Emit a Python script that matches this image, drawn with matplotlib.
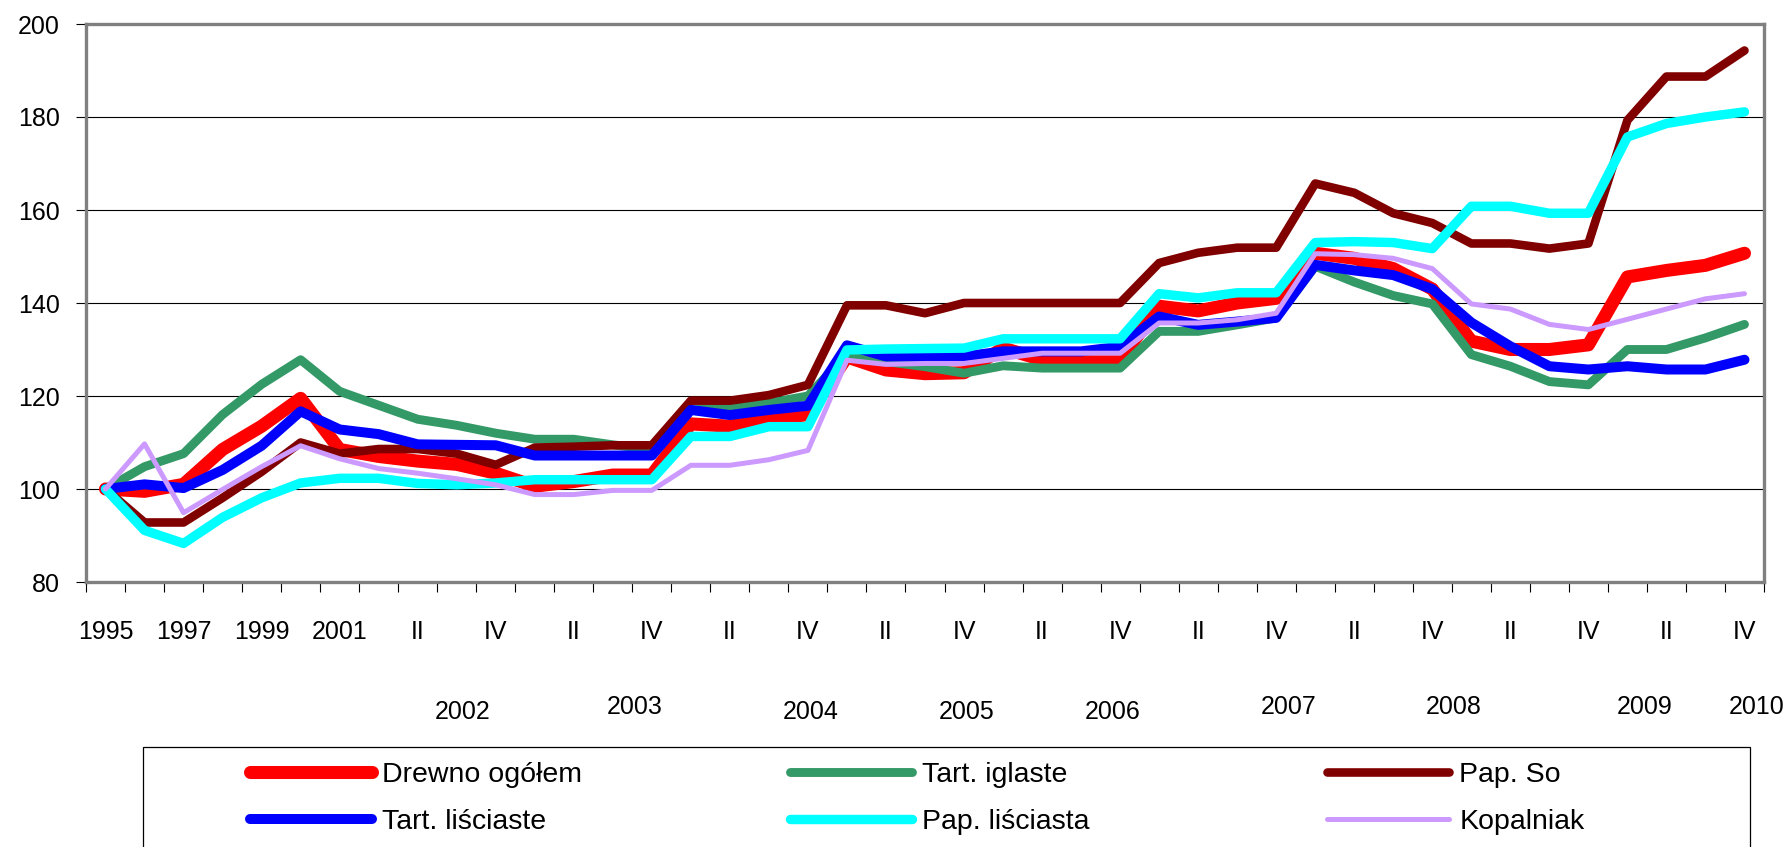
import matplotlib
matplotlib.use('Agg')
from matplotlib import pyplot as plt
import matplotlib.transforms as mtransforms
from matplotlib.patches import Rectangle
import numpy as np

plt.rcParams['font.family'] = ['Liberation Sans', 'DejaVu Sans']

# Categories: yearly 1995-2001, then quarterly 2002-2010
cat_labels = ['1995', '1996', '1997', '1998', '1999', '2000', '2001'] + ['I', 'II', 'III', 'IV'] * 9
group_years = ['2002', '2003', '2004', '2005', '2006', '2007', '2008', '2009', '2010']

drewno = [100, 99.5, 101, 108.5, 113.5, 119.5, 108.5, 107, 106, 105.3, 103.4,
          100.6, 101.6, 103, 103, 114, 113.5, 115, 116, 128.4, 125.6,
          124.8, 125, 130.3, 127.8, 127.8, 127.8, 139.3, 138.3, 140, 141,
          150.7, 149.6, 147.4, 143, 131.8, 130, 130, 131, 145.6, 147, 148.1, 150.7]
tart_igl = [100, 104.8, 107.6, 116, 122.5, 127.8, 121, 118, 115, 113.7, 112,
            110.7, 110.7, 109.5, 108.5, 117, 117.5, 118.5, 120, 129, 127.4,
            126.3, 124.9, 126.5, 126, 126, 126, 133.9, 133.9, 135.3, 136.8,
            147.9, 144.5, 141.6, 139.8, 128.9, 126.4, 123.1, 122.4, 130, 130, 132.5, 135.4]
pap_so = [100, 92.8, 92.8, 98.1, 103.7, 110, 107.6, 108.6, 108.6, 107.6, 105.2,
          108.9, 109.1, 109.4, 109.4, 119, 119, 120.2, 122.4, 139.5, 139.5,
          137.8, 140, 140, 140, 140, 140, 148.6, 150.8, 151.9, 151.9,
          165.7, 163.7, 159.3, 157.2, 152.8, 152.8, 151.7, 152.8, 179.3, 188.7, 188.7, 194.3]
tart_lisc = [100, 101, 100.2, 104.1, 109.3, 116.7, 112.8, 111.8, 109.6, 109.5, 109.4,
             107.2, 107.2, 107.2, 107.2, 117, 115.9, 117, 117.9, 130.9, 128.5,
             128.5, 128.5, 129.6, 129.6, 129.6, 130.6, 137.1, 135.3, 136, 136.8,
             148.2, 147, 146, 143, 135.8, 130.7, 126.4, 125.7, 126.4, 125.7, 125.7, 127.8]
pap_lisc = [100, 91.1, 88.3, 93.9, 98.1, 101.3, 102.3, 102.3, 101.2, 100.9, 101.3,
            102, 102, 102, 102, 111.3, 111.3, 113.4, 113.4, 129.9, 130.1,
            130.2, 130.3, 132.3, 132.3, 132.3, 132.3, 142, 141.1, 142.2, 142.2,
            153, 153.2, 153, 151.7, 160.8, 160.8, 159.3, 159.3, 175.7, 178.6, 180, 181.1]
kopalniak = [100, 109.7, 94.9, 99.9, 104.8, 109.3, 106.5, 104.4, 103.4, 102.2, 100.9,
             98.8, 98.8, 99.7, 99.7, 105.1, 105.1, 106.3, 108.3, 127.7, 126.8,
             127, 127, 128.1, 129.2, 129.2, 129.2, 135.7, 135.7, 136.4, 137.8,
             150.6, 150.4, 149.6, 147.4, 139.8, 138.7, 135.4, 134.3, 136.5, 138.7, 140.9, 142]

names = ['Drewno ogółem', 'Tart. iglaste', 'Pap. So',
         'Tart. liściaste', 'Pap. liściasta', 'Kopalniak']
series = [drewno, tart_igl, pap_so, tart_lisc, pap_lisc, kopalniak]
colors = ['#FF0000', '#339966', '#800000', '#0000FF', '#00FFFF', '#CC99FF']
widths = [9.4, 6.4, 6.2, 7.2, 6.8, 3.6]

fig = plt.figure(figsize=(17.85, 8.47), dpi=100)
ax = fig.add_axes([86 / 1785, 1 - 582 / 847, 1678 / 1785, 558 / 847])

x = np.arange(len(cat_labels))
handles = []
for ys, name, c, lw in zip(series, names, colors, widths):
    h, = ax.plot(x, ys, color=c, lw=lw, label=name,
                 solid_capstyle='round', solid_joinstyle='round')
    handles.append(h)

ax.set_xlim(-0.5, len(cat_labels) - 0.5)
ax.set_ylim(80, 200)
ax.set_yticks(np.arange(80, 201, 20))
ax.yaxis.grid(True, color='black', lw=0.8)
ax.set_axisbelow(True)

# tick marks between categories, labels on every second category
ax.set_xticks(np.arange(-0.5, len(cat_labels), 1))
ax.set_xticklabels([])
ax.set_xticks(x[::2], minor=True)
ax.set_xticklabels(cat_labels[::2], minor=True)
ax.tick_params(axis='x', which='major', length=7, width=0.8, direction='out')
ax.tick_params(axis='x', which='minor', length=0, pad=27, labelsize=18)
ax.tick_params(axis='y', length=7, width=0.8, pad=12, labelsize=18)

for sp in ax.spines.values():
    sp.set_color('#808080')
    sp.set_linewidth(2.4)

# year labels of the quarterly part, placed as in the original
year_pos = [9.14, 13.56, 18.06, 22.06, 25.81, 30.33, 34.54, 39.45, 42.32]
year_y = [-0.233, -0.224, -0.233, -0.233, -0.233, -0.224, -0.224, -0.224, -0.224]
trans = mtransforms.blended_transform_factory(ax.transData, ax.transAxes)
for yr, px, py in zip(group_years, year_pos, year_y):
    ax.text(px, py, yr, transform=trans, ha='center', va='center', fontsize=18)

# legend frame (runs off the bottom of the picture)
fig.patches.append(Rectangle((143 / 1785, -0.05), (1750 - 143) / 1785, 0.05 + 1 - 747 / 847,
                             transform=fig.transFigure, fill=False, ec='black', lw=0.9))

col_x = [250, 790, 1327]
for k, cx in enumerate(col_x):
    fig.legend([handles[k], handles[k + 3]], [names[k], names[k + 3]],
               loc='upper left', bbox_to_anchor=(cx / 1785, 1 - 762 / 847),
               frameon=False, fontsize=20.5, borderpad=0, borderaxespad=0,
               handlelength=4.3, handletextpad=0.35, labelspacing=0.75)

plt.savefig('out.png', dpi=100)
